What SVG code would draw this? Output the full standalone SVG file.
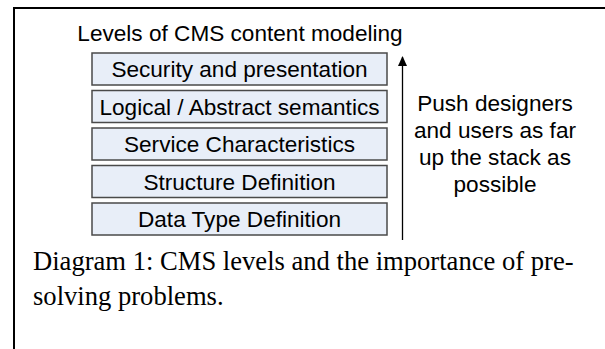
<svg xmlns="http://www.w3.org/2000/svg" width="605" height="349" viewBox="0 0 605 349">
<defs>
<style>
.box{fill:#e8eef8;stroke:#4a4a4a;stroke-width:1.5}
.bt{font-family:"Liberation Sans",Arial,sans-serif;font-size:22.6px;fill:#000;text-anchor:middle}
.side{font-family:"Liberation Sans",Arial,sans-serif;font-size:22.6px;fill:#000;text-anchor:middle}
.cap{font-family:"Liberation Serif","Times New Roman",serif;font-size:26.6px;fill:#000}
</style>
<marker id="ah" viewBox="0 0 10 10" refX="9" refY="5" markerWidth="10" markerHeight="12" markerUnits="userSpaceOnUse" orient="auto">
<path d="M0,0.5 L10,5 L0,9.5 z" fill="#000"/>
</marker>
</defs>
<rect width="605" height="349" fill="#fff"/>
<path d="M14,349 V8 H605" fill="none" stroke="#000" stroke-width="2"/>
<text class="bt" x="240" y="41">Levels of CMS content modeling</text>
<g id="n1"><rect class="box" x="92" y="53" width="295" height="32"/><text class="bt" x="239.5" y="77">Security and presentation</text></g>
<g id="n2"><rect class="box" x="92" y="90.5" width="295" height="32"/><text class="bt" x="239.5" y="114.5">Logical / Abstract semantics</text></g>
<g id="n3"><rect class="box" x="92" y="128" width="295" height="32"/><text class="bt" x="239.5" y="152">Service Characteristics</text></g>
<g id="n4"><rect class="box" x="92" y="165.5" width="295" height="32"/><text class="bt" x="239.5" y="189.5">Structure Definition</text></g>
<g id="n5"><rect class="box" x="92" y="203" width="295" height="32"/><text class="bt" x="239.5" y="227">Data Type Definition</text></g>
<g id="connectors"><line x1="402.5" y1="240" x2="402.5" y2="57" stroke="#000" stroke-width="1.3" marker-end="url(#ah)"/></g>
<g id="note"><text class="side" x="495" y="111">Push designers</text><text class="side" x="495" y="138">and users as far</text><text class="side" x="495" y="165">up the stack as</text><text class="side" x="495" y="192">possible</text></g>
<text class="cap" x="33" y="270">Diagram 1: CMS levels and the importance of pre-</text>
<text class="cap" x="33" y="305">solving problems.</text>
</svg>
